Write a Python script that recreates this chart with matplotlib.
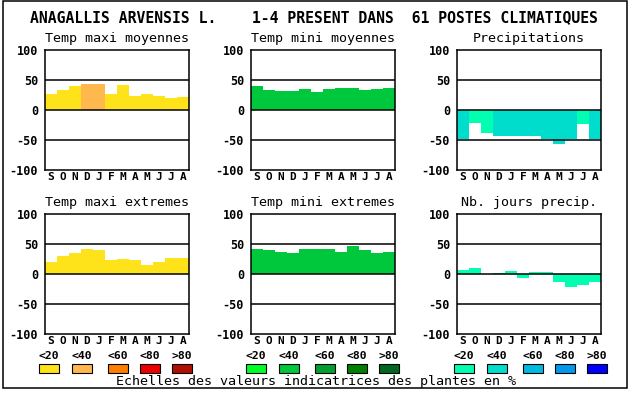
import matplotlib
matplotlib.use('Agg')
import matplotlib.pyplot as plt
import numpy as np
from matplotlib.patches import Rectangle

plt.rcParams['font.family'] = ['DejaVu Sans Mono']

# --- data ---
title = "ANAGALLIS ARVENSIS L.    1-4 PRESENT DANS  61 POSTES CLIMATIQUES"
months = ['S', 'O', 'N', 'D', 'J', 'F', 'M', 'A', 'M', 'J', 'J', 'A']
panel_titles = ['Temp maxi moyennes', 'Temp mini moyennes', 'Precipitations',
                'Temp maxi extremes', 'Temp mini extremes', 'Nb. jours precip.']

tmax_moy = [27, 33, 40, 43, 43, 27, 42, 23, 27, 23, 20, 22]
tmin_moy = [40, 33, 32, 32, 35, 30, 35, 37, 37, 33, 35, 37]
precip = [-48, -21, -38, -43, -44, -43, -44, -48, -56, -48, -24, -48]
tmax_ext = [20, 30, 35, 42, 40, 24, 25, 24, 15, 20, 27, 27]
tmin_ext = [42, 40, 37, 35, 42, 42, 42, 37, 47, 40, 35, 37]
jours_precip = [7, 10, 0, 2, 5, -6, 4, 4, -13, -21, -18, -13]

# colour class of each bar (index into the panel's colour scale)
tmax_moy_cls = [0, 0, 0, 1, 1, 0, 0, 0, 0, 0, 0, 0]
tmin_moy_cls = [1] * 12
precip_cls = [1, 0, 0, 1, 1, 1, 1, 1, 1, 1, 0, 1]
tmax_ext_cls = [0] * 12
tmin_ext_cls = [1] * 12
jours_cls = [0] * 12

scale_labels = ['<20', '<40', '<60', '<80', '>80']
reds = ['#FFE31A', '#FFB84D', '#FF8000', '#EE0000', '#B01000']
greens = ['#00FF22', '#00C83C', '#00A030', '#008000', '#006622']
blues = ['#00FFB0', '#00DDCC', '#00BBE0', '#0099EE', '#0000FF']
footer = "Echelles des valeurs indicatrices des plantes en %"

W, H = 630, 394
fig = plt.figure(figsize=(W / 100, H / 100), dpi=100)

# overlay in pixel coordinates for frame, texts and legend
bg = fig.add_axes([0, 0, 1, 1])
bg.set_xlim(0, W)
bg.set_ylim(H, 0)
bg.axis('off')
bg.add_patch(Rectangle((3, 1), 624, 387, fill=False, edgecolor='black', lw=1.1))
bg.text(314, 18, title, ha='center', va='center', fontsize=10.6, fontweight='bold')

panels = [
    (tmax_moy, tmax_moy_cls, reds),
    (tmin_moy, tmin_moy_cls, greens),
    (precip, precip_cls, blues),
    (tmax_ext, tmax_ext_cls, reds),
    (tmin_ext, tmin_ext_cls, greens),
    (jours_precip, jours_cls, blues),
]
lefts = [45, 251, 457]
tops = [50, 214]
aw, ah = 144, 120

for i, (vals, cls, pal) in enumerate(panels):
    left = lefts[i % 3]
    top = tops[i // 3]
    ax = fig.add_axes([left / W, 1 - (top + ah) / H, aw / W, ah / H])
    ax.bar(np.arange(12), vals, width=1, align='edge',
           color=[pal[c] for c in cls], linewidth=0)
    for y in (50, 0, -50):
        ax.axhline(y, color='black', lw=1.1)
    ax.set_xlim(0, 12)
    ax.set_ylim(-100, 100)
    ax.set_xticks(np.arange(12) + 0.5)
    ax.set_xticklabels(months, fontsize=8, fontweight='bold')
    ax.set_yticks([100, 50, 0, -50, -100])
    ax.set_yticklabels(['100', '50', '0', '-50', '-100'], fontsize=8.5, fontweight='bold')
    ax.tick_params(length=0, axis='y', pad=5)
    ax.tick_params(length=0, axis='x', pad=1.5)
    for s in ax.spines.values():
        s.set_linewidth(1.1)
    bg.text(left + aw / 2, top - 12, panel_titles[i], ha='center', va='center',
            fontsize=9.6)

# legend scales
offsets = [0, 33, 69, 101, 133]
group_lefts = [39, 246, 454]
for g, pal in zip(group_lefts, [reds, greens, blues]):
    for off, col, lab in zip(offsets, pal, scale_labels):
        bg.add_patch(Rectangle((g + off, 364), 20, 9, facecolor=col,
                               edgecolor='black', lw=0.8))
        bg.text(g + off + 10, 356, lab, ha='center', va='center',
                fontsize=8.2, fontweight='bold')

bg.text(316, 382, footer, ha='center', va='center', fontsize=9.6)

fig.savefig('out.png', dpi=100)
